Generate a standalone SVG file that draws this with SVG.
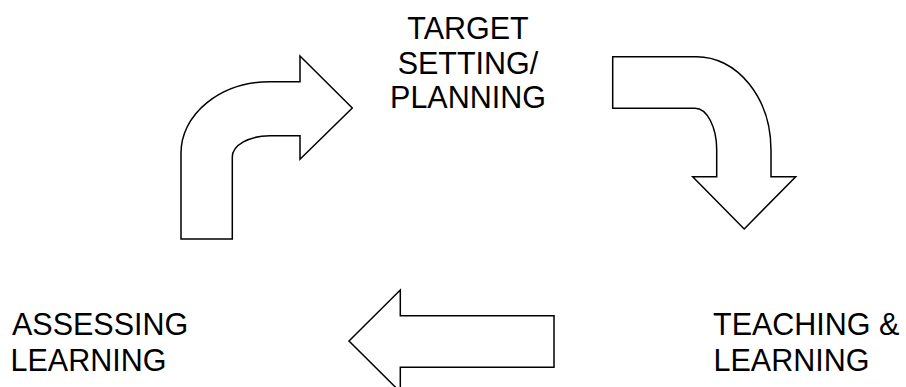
<svg xmlns="http://www.w3.org/2000/svg" width="906" height="387" viewBox="0 0 906 387">
<style>
.lbl{font-family:"Liberation Sans",Arial,sans-serif;font-size:30.5px;fill:#000}
.arr{fill:#fff;stroke:#000;stroke-width:1.5;stroke-linejoin:miter}
</style>
<rect width="906" height="387" fill="#fff"/>
<g id="connectors">
<path id="arrow-assess-target" class="arr" d="M181,239 L232.3,239 L232.3,157 A37.7,21.3 0 0 1 270,135.7 L300,135.7 L300,159.3 L352.3,108 L300,56 L300,81.7 L270,81.7 A89,71.3 0 0 0 181,153 Z"/>
<path id="arrow-target-teach" class="arr" d="M612.7,56.7 L696.7,56.7 A74.3,93.3 0 0 1 771,150 L771,176.7 L795.7,176.7 L744.2,229 L692.7,176.7 L716.7,176.7 L716.7,150 A21.7,41.7 0 0 0 695,108.3 L612.7,108.3 Z"/>
<path id="arrow-teach-assess" class="arr" d="M349,341 L400.3,290 L400.3,315.7 L554,315.7 L554,367.3 L400.3,367.3 L400.3,392 Z"/>
</g>
<g id="node-target">
<text class="lbl" transform="translate(468,39.3) scale(1,1.05)" text-anchor="middle">TARGET</text>
<text class="lbl" transform="translate(468,73.7) scale(1,1.05)" text-anchor="middle">SETTING/</text>
<text class="lbl" transform="translate(468,108.3) scale(1,1.05)" text-anchor="middle">PLANNING</text>
</g>
<g id="node-teaching">
<text class="lbl" transform="translate(713,335) scale(1,1.05)">TEACHING &amp;</text>
<text class="lbl" transform="translate(713.5,371) scale(1,1.05)">LEARNING</text>
</g>
<g id="node-assessing">
<text class="lbl" transform="translate(12,335) scale(1,1.05)">ASSESSING</text>
<text class="lbl" transform="translate(10.5,371) scale(1,1.05)">LEARNING</text>
</g>
</svg>
